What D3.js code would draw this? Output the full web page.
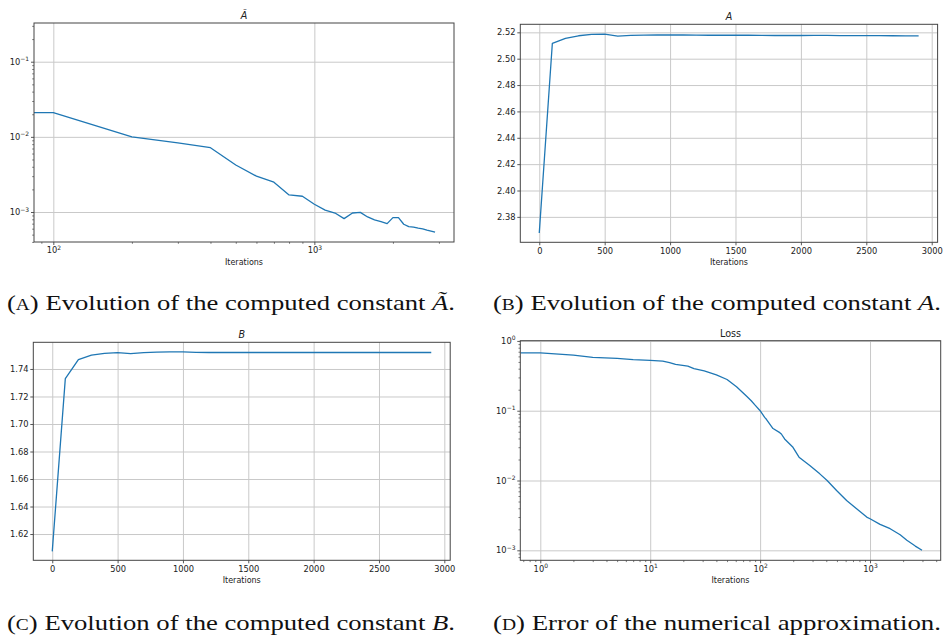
<!DOCTYPE html>
<html><head><meta charset="utf-8">
<script src="https://cdn.jsdelivr.net/npm/d3@7"></script>
<style>body{margin:0;background:#fff} svg{display:block}</style>
</head><body>
<svg id="c" width="943" height="635"></svg>
<script>
// ---------------- data ----------------
const iterations = [0,100,200,300,400,500,600,700,800,900,1000,1100,1200,1300,1400,1500,1600,1700,1800,1900,2000,2100,2200,2300,2400,2500,2600,2700,2800,2900];
const aTildeValues = [0.021,0.021,0.0100,0.0083,0.00718,0.00422,0.0030,0.00249,0.00169,0.00162,0.00127,0.00106,0.00097,0.000817,0.00097,0.00099,0.00086,0.000785,0.000745,0.000701,0.000843,0.000843,0.000687,0.00064,0.000628,0.00061,0.000597,0.000573,0.000556,0.000538];
const aValues = [2.3678,2.5117,2.5155,2.5174,2.5185,2.5187,2.5172,2.5177,2.5179,2.5180,2.5180,2.5180,2.5179,2.5178,2.5178,2.5178,2.5178,2.5177,2.5176,2.5176,2.5176,2.5177,2.5177,2.5175,2.5175,2.5175,2.5175,2.5174,2.5173,2.5173];
const bValues = [1.6074,1.7330,1.7468,1.7500,1.7514,1.7519,1.7511,1.7519,1.7522,1.7524,1.7524,1.7521,1.7520,1.7520,1.7520,1.7520,1.7520,1.7520,1.7520,1.7520,1.7520,1.7520,1.7520,1.7520,1.7520,1.7520,1.7520,1.7520,1.7520,1.7520];
const lossIterations = [0,1,2,3,5,7,10,13,15,17,22,25,31,40,50,61,75,83,90,100,110,114,131,151,156,167,199,226,283,349,407,496,612,755,933,1000,1234,1524,1879,2163,2581,2972];
const lossValues = [0.675,0.675,0.625,0.58,0.563,0.54,0.525,0.513,0.49,0.46,0.435,0.40,0.373,0.327,0.28,0.22,0.162,0.139,0.12,0.10,0.0804,0.0754,0.0555,0.0485,0.0464,0.0394,0.0299,0.0216,0.0164,0.01245,0.0100,0.0072,0.00518,0.00394,0.00299,0.00283,0.00235,0.00204,0.00167,0.00139,0.00115,0.0010];

const linearXTicks = [0,500,1000,1500,2000,2500,3000];
const aYTicks = [2.38,2.40,2.42,2.44,2.46,2.48,2.50,2.52];
const bYTicks = [1.62,1.64,1.66,1.68,1.70,1.72,1.74];
const panelTitles = ["\u00C3", "A", "B", "Loss"];
const xLabel = "Iterations";
const captions = [
  {tag:"A", pre:") Evolution of the computed constant ", it:"\u00C3", post:"."},
  {tag:"B", pre:") Evolution of the computed constant ", it:"A", post:"."},
  {tag:"C", pre:") Evolution of the computed constant ", it:"B", post:"."},
  {tag:"D", pre:") Error of the numerical approximation.", it:"", post:""}
];

// ---------------- drawing ----------------
const svg = d3.select('#c');
const SANS = "'DejaVu Sans', sans-serif";
const LINE = '#1f77b4';
const GRID = '#c9c9c9';
const TEXT = '#222';

function zip(a, b){ return a.map((v,i)=>[v,b[i]]); }
function powersIn(scale){
  const [a,b] = scale.domain();
  const out=[]; for(let e=Math.ceil(Math.log10(a)-1e-9); e<=Math.floor(Math.log10(b)+1e-9); e++) out.push(Math.pow(10,e));
  return out;
}
function minorsIn(scale){
  const [a,b] = scale.domain();
  const out=[];
  for(let e=Math.floor(Math.log10(a)); e<=Math.ceil(Math.log10(b)); e++)
    for(let k=2;k<=9;k++){ const v=k*Math.pow(10,e); if(v>=a && v<=b) out.push(v); }
  return out;
}
function sup(sel){
  sel.each(function(d){
    const e = Math.round(Math.log10(d));
    const t = d3.select(this); t.text(null);
    t.append('tspan').text('10');
    t.append('tspan').attr('dy',-3.6).attr('font-size',6).text(e<0 ? '\u2212'+(-e) : String(e));
  });
}

let clipId = 0;
function drawPanel(p){
  const {left,right,top,bottom} = p.box;
  const w = right-left, h = bottom-top;
  p.x.range([left,right]); p.y.range([bottom,top]);
  const g = svg.append('g');
  const xMajor = p.xLog ? powersIn(p.x) : p.xTicks;
  const yMajor = p.yLog ? powersIn(p.y) : p.yTicks;

  g.append('g').attr('transform',`translate(0,${bottom})`)
    .call(d3.axisBottom(p.x).tickValues(xMajor).tickSize(-h).tickFormat(''))
    .call(a=>{a.select('.domain').remove(); a.selectAll('line').attr('stroke',GRID).attr('stroke-width',1);});
  g.append('g').attr('transform',`translate(${left},0)`)
    .call(d3.axisLeft(p.y).tickValues(yMajor).tickSize(-w).tickFormat(''))
    .call(a=>{a.select('.domain').remove(); a.selectAll('line').attr('stroke',GRID).attr('stroke-width',1);});

  const id = 'clip'+(clipId++);
  svg.append('clipPath').attr('id',id).append('rect').attr('x',left).attr('y',top).attr('width',w).attr('height',h);
  g.append('path').datum(p.data).attr('clip-path',`url(#${id})`)
    .attr('fill','none').attr('stroke',LINE).attr('stroke-width',1.3).attr('stroke-linejoin','round')
    .attr('d', d3.line().x(d=>p.x(d[0])).y(d=>p.y(d[1])));

  g.append('rect').attr('x',left).attr('y',top).attr('width',w).attr('height',h)
    .attr('fill','none').attr('stroke','#444').attr('stroke-width',1);

  if(p.xLog){
    g.append('g').attr('transform',`translate(0,${bottom})`)
      .call(d3.axisBottom(p.x).tickValues(minorsIn(p.x)).tickSize(1.8).tickFormat(''))
      .call(a=>{a.select('.domain').remove(); a.selectAll('line').attr('stroke','#444').attr('stroke-width',0.7);});
  }
  if(p.yLog){
    g.append('g').attr('transform',`translate(${left},0)`)
      .call(d3.axisLeft(p.y).tickValues(minorsIn(p.y)).tickSize(1.8).tickFormat(''))
      .call(a=>{a.select('.domain').remove(); a.selectAll('line').attr('stroke','#444').attr('stroke-width',0.7);});
  }
  const xa = g.append('g').attr('transform',`translate(0,${bottom})`)
    .call(d3.axisBottom(p.x).tickValues(xMajor).tickSize(3).tickPadding(2.6).tickFormat(p.xLog?null:d3.format('d')));
  const ya = g.append('g').attr('transform',`translate(${left},0)`)
    .call(d3.axisLeft(p.y).tickValues(yMajor).tickSize(3).tickPadding(1.8).tickFormat(p.yLog?null:d3.format('.2f')));
  [xa,ya].forEach(a=>{
    a.select('.domain').remove();
    a.selectAll('line').attr('stroke','#444').attr('stroke-width',0.9);
    a.selectAll('text').attr('font-family',SANS).attr('font-size',8.3).attr('fill',TEXT);
  });
  if(p.xLog) xa.selectAll('text').call(sup);
  if(p.yLog) ya.selectAll('text').call(sup);

  g.append('text').attr('x',(left+right)/2).attr('y',top-4).attr('text-anchor','middle')
    .attr('font-family',SANS).attr('font-size',9.6).attr('fill',TEXT)
    .attr('font-style', p.titleItalic ? 'italic' : 'normal').text(p.title);
  g.append('text').attr('x',(left+right)/2).attr('y',bottom+23).attr('text-anchor','middle')
    .attr('font-family',SANS).attr('font-size',8).attr('fill',TEXT).text(xLabel);
}

drawPanel({
  box:{left:34,right:454,top:23,bottom:242},
  x: d3.scaleLog().domain([Math.pow(10,1.926), Math.pow(10,3.535)]).clamp(true),
  y: d3.scaleLog().domain([Math.pow(10,-3.399), Math.pow(10,-0.485)]),
  xLog:true, yLog:true,
  data: zip(iterations, aTildeValues), title: panelTitles[0], titleItalic:true
});
drawPanel({
  box:{left:520.3,right:937.6,top:24.3,bottom:242.3},
  x: d3.scaleLinear().domain([-145,3045]),
  y: d3.scaleLinear().domain([2.3607,2.5261]),
  xTicks: linearXTicks, yTicks: aYTicks,
  data: zip(iterations, aValues), title: panelTitles[1], titleItalic:true
});
drawPanel({
  box:{left:33.3,right:450.2,top:342.3,bottom:560.3},
  x: d3.scaleLinear().domain([-145,3045]),
  y: d3.scaleLinear().domain([1.6009,1.7594]),
  xTicks: linearXTicks, yTicks: bYTicks,
  data: zip(iterations, bValues), title: panelTitles[2], titleItalic:true
});
drawPanel({
  box:{left:520.3,right:940.7,top:340.7,bottom:560.3},
  x: d3.scaleLog().domain([Math.pow(10,-0.182), Math.pow(10,3.643)]).clamp(true),
  y: d3.scaleLog().domain([Math.pow(10,-3.143), Math.pow(10,0.003)]),
  xLog:true, yLog:true,
  data: zip(lossIterations, lossValues), title: panelTitles[3], titleItalic:false
});

const capPos = [{x:7,y:309.5},{x:493,y:309.5},{x:7,y:629.5},{x:493,y:629.5}];
captions.forEach((c,i)=>{
  const t = svg.append('text').attr('x',capPos[i].x).attr('y',capPos[i].y)
    .attr('font-family',"'Liberation Serif'").attr('font-size',22).attr('fill','#111')
    .attr('textLength',448).attr('lengthAdjust','spacingAndGlyphs');
  t.append('tspan').text('(');
  t.append('tspan').attr('font-size',16).text(c.tag);
  t.append('tspan').text(c.pre);
  if(c.it) t.append('tspan').attr('font-style','italic').text(c.it);
  if(c.post) t.append('tspan').text(c.post);
});
</script>
</body></html>
